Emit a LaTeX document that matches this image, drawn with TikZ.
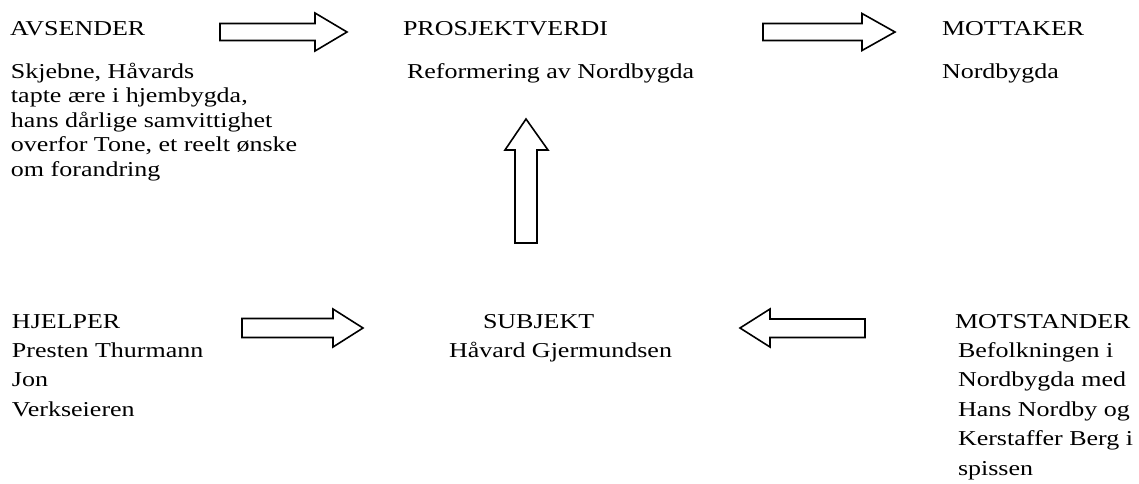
\documentclass[tikz,border=0pt]{standalone}
\usepackage{fontspec}
\setmainfont{Liberation Serif}[FakeStretch=1.226]
\newcommand\txtblock[2]{\vtop{\baselineskip=#1\lineskiplimit=-20pt\halign{##\hfil\cr#2\crcr}}}
\begin{document}
\begin{tikzpicture}[x=0.75pt,y=-0.75pt,
  lbl/.style={anchor=base west,inner sep=0pt,outer sep=0pt,font=\fontsize{15.9pt}{18.4pt}\selectfont},
  blockarrow/.style={draw=black,line width=1.2pt,fill=white,line join=miter}]
\useasboundingbox (0,0) rectangle (1139,483);
% top row
\node[lbl] (avs) at (10,35) {AVSENDER};
\node[lbl] (avst) at (11,78) {\txtblock{18.4pt}{Skjebne, Håvards\cr tapte ære i hjembygda,\cr hans dårlige samvittighet\cr overfor Tone, et reelt ønske\cr om forandring}};
\node[lbl] (pro) at (403,35) {PROSJEKTVERDI};
\node[lbl] (prot) at (407,78) {Reformering av Nordbygda};
\node[lbl] (mot) at (942,35) {MOTTAKER};
\node[lbl] (mott) at (942,78) {Nordbygda};
% bottom row
\node[lbl] (hje) at (12,328) {\txtblock{22.1pt}{HJELPER\cr Presten Thurmann\cr Jon\cr Verkseieren}};
\node[lbl] (sub) at (483,328) {SUBJEKT};
\node[lbl] (subt) at (449,357.5) {Håvard Gjermundsen};
\node[lbl] (mst) at (955,328) {MOTSTANDER};
\node[lbl] (mstt) at (958,357.5) {\txtblock{22.1pt}{Befolkningen i\cr Nordbygda med\cr Hans Nordby og\cr Kerstaffer Berg i\cr spissen}};
% block arrows
\draw[blockarrow] (220,23.5) -- (315,23.5) -- (315,13) -- (347,32) -- (315,51) -- (315,40.5) -- (220,40.5) -- cycle;
\draw[blockarrow] (763,23.5) -- (862,23.5) -- (862,13.5) -- (895,32) -- (862,50.5) -- (862,40.5) -- (763,40.5) -- cycle;
\draw[blockarrow] (242,318.5) -- (333,318.5) -- (333,309) -- (363,328) -- (333,347) -- (333,337.5) -- (242,337.5) -- cycle;
\draw[blockarrow] (865,319) -- (770,319) -- (770,309) -- (740,328) -- (770,347) -- (770,337.5) -- (865,337.5) -- cycle;
\draw[blockarrow] (515,243) -- (515,150) -- (505,150) -- (526,119) -- (548,150) -- (537,150) -- (537,243) -- cycle;
\end{tikzpicture}
\end{document}
